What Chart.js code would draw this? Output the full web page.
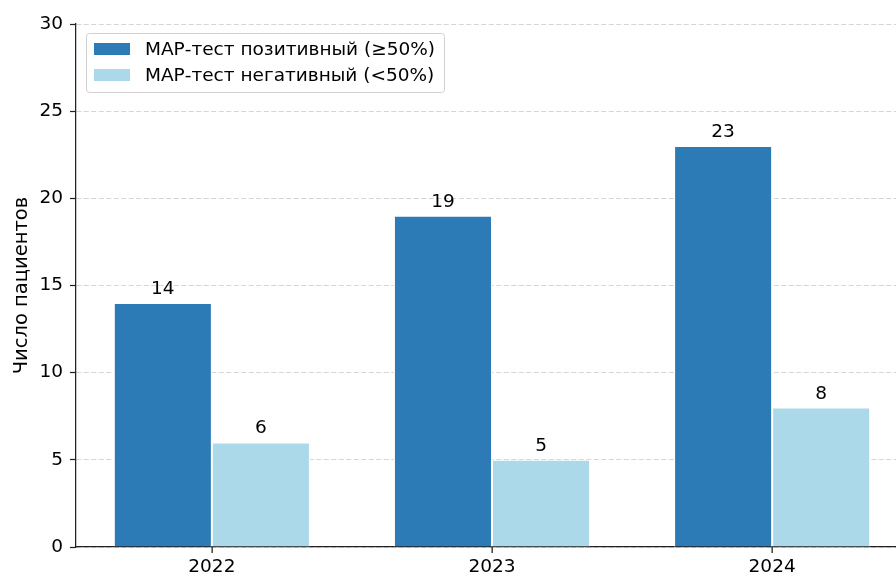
<!DOCTYPE html>
<html>
<head>
<meta charset="utf-8">
<script src="https://cdn.jsdelivr.net/npm/chart.js@4"></script>
<style>
  html, body { margin: 0; padding: 0; background: #fff; overflow: hidden; }
</style>
</head>
<body>
<canvas id="mapChart" width="912" height="578"></canvas>
<script>
const years = ['2022', '2023', '2024'];
const positive = [14, 19, 23];
const negative = [6, 5, 8];
const seriesNames = ['МАР-тест позитивный (≥50%)', 'МАР-тест негативный (<50%)'];
const yTicks = [0, 5, 10, 15, 20, 25, 30];

const FONT = 'DejaVu Sans, sans-serif';

// value labels over each bar
const barLabels = {
    id: 'barLabels',
    afterDatasetsDraw(chart) {
        const ctx = chart.ctx;
        ctx.save();
        ctx.font = '18.5px ' + FONT;
        ctx.fillStyle = '#000';
        ctx.textAlign = 'center';
        ctx.textBaseline = 'alphabetic';
        chart.data.datasets.forEach((ds, i) => {
            chart.getDatasetMeta(i).data.forEach((bar, j) => {
                ctx.fillText(ds.data[j].y, bar.x, bar.y - 9);
            });
        });
        ctx.restore();
    }
};

// small tick marks under the x axis, at each year
const xTickMarks = {
    id: 'xTickMarks',
    afterDraw(chart) {
        const sc = chart.scales.x;
        const ctx = chart.ctx;
        ctx.save();
        ctx.setLineDash([]);
        ctx.fillStyle = '#222';
        sc.ticks.forEach((t, i) => {
            const px = sc.getPixelForValue(t.value);
            ctx.fillRect(Math.round(px) - 0.5, chart.chartArea.bottom, 1.3, 6);
        });
        ctx.restore();
    }
};

// legend box inside the plot, upper left
const innerLegend = {
    id: 'innerLegend',
    afterDraw(chart) {
        const ctx = chart.ctx;
        const x0 = chart.chartArea.left + 10;
        const y0 = chart.chartArea.top + 9;
        const w = 358, h = 59;
        ctx.save();
        ctx.setLineDash([]);
        ctx.fillStyle = 'rgba(255,255,255,0.85)';
        ctx.strokeStyle = '#d0d0d0';
        ctx.lineWidth = 1;
        ctx.beginPath();
        ctx.roundRect(x0 + 0.5, y0 + 0.5, w, h, 3);
        ctx.fill();
        ctx.stroke();
        ctx.font = '18.5px ' + FONT;
        ctx.textBaseline = 'middle';
        ctx.textAlign = 'left';
        chart.data.datasets.forEach((ds, i) => {
            const cy = y0 + 16 + i * 26;
            ctx.fillStyle = ds.backgroundColor;
            ctx.fillRect(x0 + 8, cy - 6, 36, 12);
            ctx.fillStyle = '#000';
            ctx.fillText(ds.label, x0 + 59, cy + 1);
        });
        ctx.restore();
    }
};

new Chart(document.getElementById('mapChart').getContext('2d'), {
    type: 'bar',
    data: {
        datasets: [{
            label: seriesNames[0],
            data: positive.map((v, i) => ({ x: i, y: v })),
            backgroundColor: '#2c7bb6',
            borderColor: '#ffffff',
            borderWidth: 1
        }, {
            label: seriesNames[1],
            data: negative.map((v, i) => ({ x: i, y: v })),
            backgroundColor: '#abd9e9',
            borderColor: '#ffffff',
            borderWidth: 1
        }]
    },
    options: {
        responsive: false,
        animation: false,
        layout: { padding: { left: 10, right: 4, top: 24, bottom: 0 } },
        datasets: { bar: { barPercentage: 1, categoryPercentage: 0.7 } },
        plugins: {
            legend: { display: false },
            tooltip: { enabled: false }
        },
        scales: {
            x: {
                type: 'linear',
                min: -0.485,
                max: 2.485,
                offset: false,
                afterFit(scale) { scale.height = 31; },
                afterBuildTicks(scale) { scale.ticks = years.map((y, i) => ({ value: i })); },
                border: { color: '#222', width: 1.25 },
                grid: { display: false, drawTicks: true, tickLength: 6 },
                ticks: {
                    color: '#000',
                    padding: 3,
                    font: { family: FONT, size: 18.5 },
                    callback: (v) => years[v]
                }
            },
            y: {
                min: 0,
                max: 30,
                afterFit(scale) { scale.width = 66; },
                afterBuildTicks(scale) { scale.ticks = yTicks.map(v => ({ value: v })); },
                border: { color: '#222', width: 1.25, dash: [5, 2.5] },
                grid: {
                    color: '#d6d6d6',
                    lineWidth: 1,
                    drawTicks: true,
                    tickLength: 6,
                    tickWidth: 1.25,
                    tickColor: '#222',
                    tickBorderDash: []
                },
                ticks: { color: '#000', padding: 7, font: { family: FONT, size: 18.5 } },
                title: {
                    display: true,
                    text: 'Число пациентов',
                    color: '#000',
                    padding: { top: 0, bottom: 4 },
                    font: { family: FONT, size: 19.5 }
                }
            }
        }
    },
    plugins: [barLabels, xTickMarks, innerLegend]
});
</script>
</body>
</html>
